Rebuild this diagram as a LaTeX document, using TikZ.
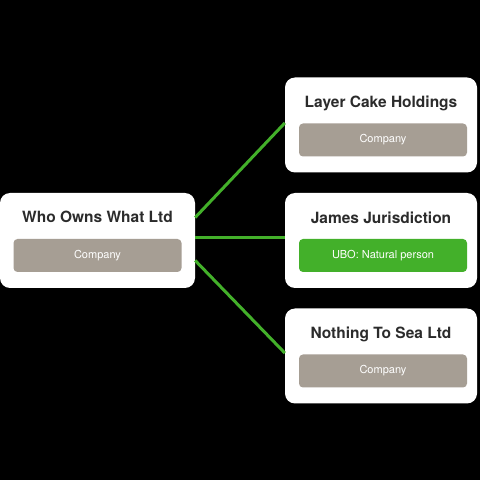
\documentclass[tikz,border=0pt]{standalone}
\usepackage{fontspec}
\setmainfont{TeX Gyre Heros}
\usetikzlibrary{positioning, calc}

\definecolor{titlegray}{HTML}{2B2B2B}
\definecolor{tagstone}{HTML}{A69E94}
\definecolor{ubogreen}{HTML}{43B02A}

\begin{document}
\begin{tikzpicture}[
    x=1pt, y=1pt,
    card/.style={rectangle, rounded corners=10pt, fill=white, minimum width=192pt, minimum height=95pt, inner sep=0pt},
    cardtitle/.style={font=\fontsize{15.5}{18}\selectfont\bfseries, text=titlegray, inner sep=0pt},
    tag/.style={rectangle, rounded corners=4pt, fill=tagstone, minimum width=168pt, minimum height=33pt, inner sep=0pt, text=white, font=\fontsize{11}{13}\selectfont},
    ubotag/.style={tag, fill=ubogreen},
    link/.style={draw=ubogreen, line width=3pt}
]
    % Fondo
    \fill[black] (0,0) rectangle (480,480);
    \useasboundingbox (0,0) rectangle (480,480);

    % Tarjetas
    \node[card, minimum width=195pt] (who) at (97.5,239.5) {};
    \node[card] (layer) at (381,355) {};
    \node[card] (james) at (381,239.5) {};
    \node[card] (nothing) at (381,124) {};

    % Titulos
    \node[cardtitle, below=18.5pt of who.north] (whot) {Who Owns What Ltd};
    \node[cardtitle, below=18.5pt of layer.north] (layert) {Layer Cake Holdings};
    \node[cardtitle, below=18.5pt of james.north] (jamest) {James Jurisdiction};
    \node[cardtitle, below=18.5pt of nothing.north] (nothingt) {Nothing To Sea Ltd};

    % Etiquetas
    \node[tag, below=46pt of who.north, anchor=north] (whotag) {Company};
    \node[tag, below=46pt of layer.north, anchor=north, xshift=2pt] (layertag) {Company};
    \node[ubotag, below=46pt of james.north, anchor=north, xshift=2pt] (jamestag) {UBO: Natural person};
    \node[tag, below=46pt of nothing.north, anchor=north, xshift=2pt] (nothingtag) {Company};

    % Conexiones
    \draw[link] ([yshift=23pt]who.east) -- ([yshift=2pt]layer.west);
    \draw[link] ([yshift=3pt]who.east) -- ([yshift=3pt]james.west);
    \draw[link] ([yshift=-20pt]who.east) -- ([yshift=3pt]nothing.west);

\end{tikzpicture}
\end{document}
